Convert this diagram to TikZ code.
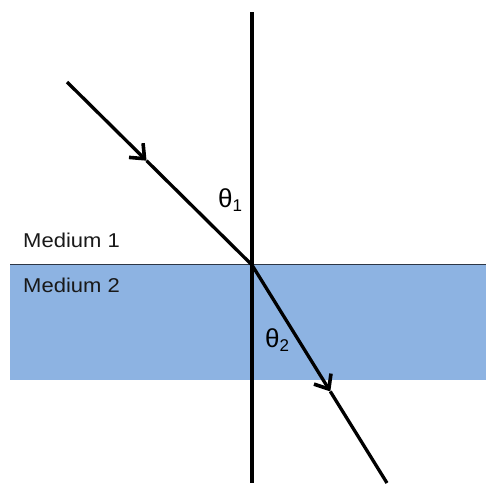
\documentclass[tikz,border=0pt]{standalone}
\usepackage{fontspec}
\setmainfont{Liberation Sans}
\usetikzlibrary{arrows.meta,calc}
\definecolor{mediumblue}{RGB}{141,179,226}
\definecolor{interface}{RGB}{45,55,70}
\begin{document}
\begin{tikzpicture}[x=1pt,y=-1pt,
  ray/.style={line width=3.3pt,black},
  barb/.style={-{Straight Barb[length=12pt,width=20pt,line width=3.6pt]}},
  normalline/.style={line width=3.6pt,black},
  medlabel/.style={anchor=base west,inner sep=0pt,font=\fontsize{20}{24}\selectfont,xscale=1.1,text=black!90},
  anglabel/.style={anchor=base west,inner sep=0pt,font=\fontsize{26}{30}\selectfont}]
\useasboundingbox (0,0) rectangle (486,483);
% medium 2 slab
\fill[mediumblue] (10,264.5) rectangle (486,380);
\draw[interface,line width=1.3pt] (10,264.5) -- (486,264.5);
% normal
\coordinate (ntop) at (252,12);
\coordinate (nbot) at (252,483);
\draw[normalline] (ntop) -- (nbot);
% rays
\coordinate (a) at (67,82);
\coordinate (o) at (252,265);
\coordinate (e) at (387,483);
\coordinate (m1) at ($(a)!0.43!(o)$);
\coordinate (m2) at ($(o)!0.58!(e)$);
\draw[ray,barb] (a) -- (m1);
\draw[ray] (m1) -- (o);
\draw[ray,barb] (o) -- (m2);
\draw[ray] (m2) -- (e);
% labels
\node[medlabel] (med1) at (23,247) {Medium 1};
\node[medlabel] (med2) at (23,292) {Medium 2};
\node[anglabel] (t1) at (218,207) {θ\raisebox{-4pt}{\fontsize{17}{20}\selectfont 1}};
\node[anglabel] (t2) at (265,347) {θ\raisebox{-4pt}{\fontsize{17}{20}\selectfont 2}};
\end{tikzpicture}
\end{document}
